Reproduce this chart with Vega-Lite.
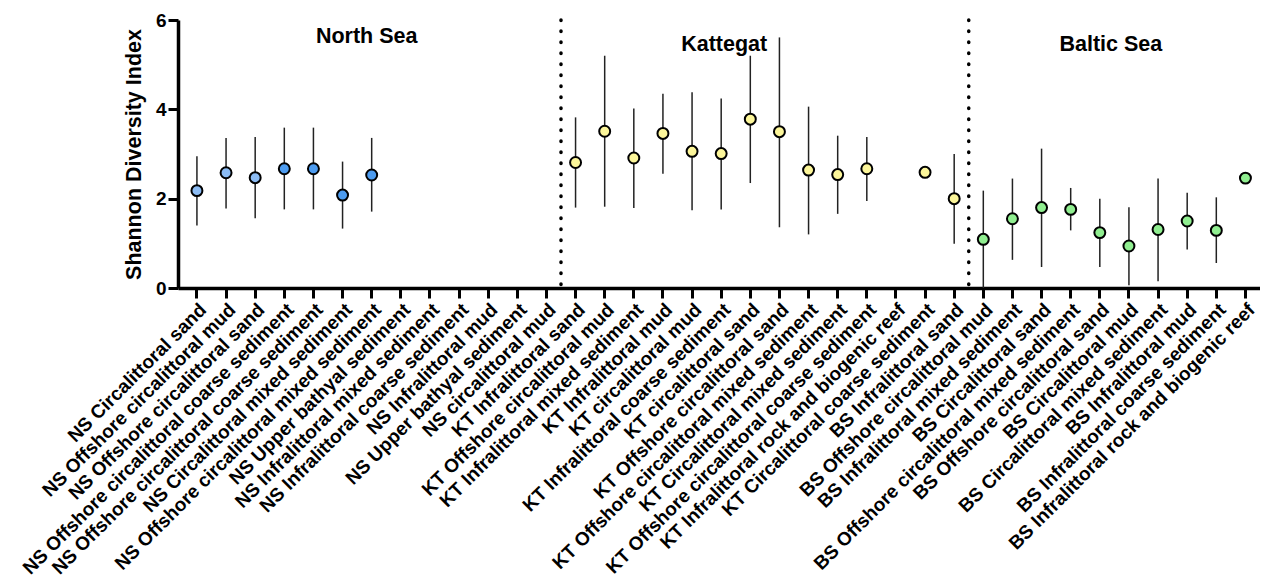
{
  "$schema": "https://vega.github.io/schema/vega-lite/v6.json",
  "autosize": {"type": "none"},
  "padding": {"left": 178, "top": 20, "right": 0, "bottom": 300},
  "width": 1082,
  "height": 268,
  "background": "white",
  "config": {
    "view": {"stroke": null},
    "font": "Liberation Sans",
    "axis": {
      "domainColor": "black",
      "domainWidth": 3.5,
      "tickColor": "black",
      "tickWidth": 3,
      "tickSize": 10,
      "labelColor": "black",
      "labelFont": "Liberation Sans",
      "labelFontWeight": "bold",
      "labelFontSize": 19,
      "titleFont": "Liberation Sans",
      "titleFontWeight": "bold",
      "titleFontSize": 21.5,
      "titleColor": "black",
      "grid": false
    }
  },
  "datasets": {
    "main": [
      {"cat": "NS Circalittoral sand", "group": "NSa", "mean": 2.18, "lo": 1.40, "hi": 2.95},
      {"cat": "NS Offshore circalittoral mud", "group": "NSa", "mean": 2.58, "lo": 1.78, "hi": 3.36},
      {"cat": "NS Offshore circalittoral sand", "group": "NSa", "mean": 2.47, "lo": 1.56, "hi": 3.38},
      {"cat": "NS Offshore circalittoral coarse sediment", "group": "NSb", "mean": 2.67, "lo": 1.76, "hi": 3.59},
      {"cat": "NS Offshore circalittoral coarse sediment|2", "group": "NSb", "mean": 2.67, "lo": 1.76, "hi": 3.59},
      {"cat": "NS Circalittoral mixed sediment", "group": "NSb", "mean": 2.08, "lo": 1.33, "hi": 2.83},
      {"cat": "NS Offshore circalittoral mixed sediment", "group": "NSb", "mean": 2.53, "lo": 1.71, "hi": 3.36},
      {"cat": "KT Infralittoral sand", "group": "KT", "mean": 2.81, "lo": 1.80, "hi": 3.82},
      {"cat": "KT Offshore circalittoral mud", "group": "KT", "mean": 3.51, "lo": 1.82, "hi": 5.20},
      {"cat": "KT Infralittoral mixed sediment", "group": "KT", "mean": 2.91, "lo": 1.79, "hi": 4.02},
      {"cat": "KT Infralittoral mud", "group": "KT", "mean": 3.46, "lo": 2.56, "hi": 4.35},
      {"cat": "KT circalittoral mud", "group": "KT", "mean": 3.06, "lo": 1.74, "hi": 4.38},
      {"cat": "KT Infralittoral coarse sediment", "group": "KT", "mean": 3.01, "lo": 1.76, "hi": 4.24},
      {"cat": "KT circalittoral sand", "group": "KT", "mean": 3.78, "lo": 2.35, "hi": 5.20},
      {"cat": "KT Offshore circalittoral sand", "group": "KT", "mean": 3.50, "lo": 1.36, "hi": 5.61},
      {"cat": "KT Offshore circalittoral mixed sediment", "group": "KT", "mean": 2.64, "lo": 1.20, "hi": 4.06},
      {"cat": "KT Circalittoral mixed sediment", "group": "KT", "mean": 2.54, "lo": 1.66, "hi": 3.41},
      {"cat": "KT Offshore circalittoral coarse sediment", "group": "KT", "mean": 2.67, "lo": 1.95, "hi": 3.38},
      {"cat": "KT Circalittoral coarse sediment", "group": "KT", "mean": 2.59, "lo": null, "hi": null},
      {"cat": "BS Infralittoral sand", "group": "KT", "mean": 2.00, "lo": 0.99, "hi": 3.00},
      {"cat": "BS Offshore circalittoral mud", "group": "BS", "mean": 1.09, "lo": 0.0, "hi": 2.18},
      {"cat": "BS Infralittoral mixed sediment", "group": "BS", "mean": 1.55, "lo": 0.63, "hi": 2.45},
      {"cat": "BS Circalittoral sand", "group": "BS", "mean": 1.80, "lo": 0.47, "hi": 3.12},
      {"cat": "BS Offshore circalittoral mixed sediment", "group": "BS", "mean": 1.76, "lo": 1.29, "hi": 2.24},
      {"cat": "BS Offshore circalittoral sand", "group": "BS", "mean": 1.24, "lo": 0.47, "hi": 2.00},
      {"cat": "BS Circalittoral mud", "group": "BS", "mean": 0.94, "lo": 0.06, "hi": 1.81},
      {"cat": "BS Circalittoral mixed sediment", "group": "BS", "mean": 1.31, "lo": 0.15, "hi": 2.45},
      {"cat": "BS Infralittoral mud", "group": "BS", "mean": 1.50, "lo": 0.86, "hi": 2.13},
      {"cat": "BS Infralittoral coarse sediment", "group": "BS", "mean": 1.29, "lo": 0.56, "hi": 2.03},
      {"cat": "BS Infralittoral rock and biogenic reef", "group": "BS", "mean": 2.46, "lo": null, "hi": null}
    ],
    "dividers": [
      {"cat": "NS circalittoral mud"},
      {"cat": "BS Infralittoral sand"}
    ]
  },
  "layer": [
    {
      "data": {"name": "dividers"},
      "mark": {"type": "rule", "color": "black", "strokeWidth": 3.5, "strokeDash": [0.5, 10.5], "strokeCap": "round"},
      "encoding": {
        "x": {"field": "cat", "type": "nominal", "bandPosition": 1,
          "scale": {"domain": [
            "NS Circalittoral sand", "NS Offshore circalittoral mud", "NS Offshore circalittoral sand",
            "NS Offshore circalittoral coarse sediment", "NS Offshore circalittoral coarse sediment|2",
            "NS Circalittoral mixed sediment", "NS Offshore circalittoral mixed sediment",
            "NS Upper bathyal sediment", "NS Infralittoral mixed sediment", "NS Infralittoral coarse sediment",
            "NS Infralittoral mud", "NS Upper bathyal sediment|2", "NS circalittoral mud",
            "KT Infralittoral sand", "KT Offshore circalittoral mud", "KT Infralittoral mixed sediment",
            "KT Infralittoral mud", "KT circalittoral mud", "KT Infralittoral coarse sediment",
            "KT circalittoral sand", "KT Offshore circalittoral sand", "KT Offshore circalittoral mixed sediment",
            "KT Circalittoral mixed sediment", "KT Offshore circalittoral coarse sediment",
            "KT Infralittoral rock and biogenic reef", "KT Circalittoral coarse sediment", "BS Infralittoral sand",
            "BS Offshore circalittoral mud", "BS Infralittoral mixed sediment", "BS Circalittoral sand",
            "BS Offshore circalittoral mixed sediment", "BS Offshore circalittoral sand", "BS Circalittoral mud",
            "BS Circalittoral mixed sediment", "BS Infralittoral mud", "BS Infralittoral coarse sediment",
            "BS Infralittoral rock and biogenic reef"],
            "paddingInner": 0, "paddingOuter": 0.075, "align": 1},
          "axis": {"title": null, "labelAngle": -45, "labelExpr": "split(datum.label, '|')[0]", "labelPadding": 2, "labelLimit": 600}
        },
        "y": {"datum": 6, "type": "quantitative", "scale": {"domain": [0, 6], "nice": false}, "title": "Shannon Diversity Index"},
        "y2": {"datum": 0}
      }
    },
    {
      "data": {"name": "main"},
      "mark": {"type": "rule", "color": "#222222", "strokeWidth": 1.5},
      "encoding": {
        "x": {"field": "cat", "type": "nominal"},
        "y": {"field": "lo", "type": "quantitative", "title": "Shannon Diversity Index",
          "axis": {"values": [0, 2, 4, 6], "titlePadding": 10, "labelPadding": 2}},
        "y2": {"field": "hi"}
      }
    },
    {
      "data": {"name": "main"},
      "mark": {"type": "point", "shape": "circle", "filled": true, "size": 120, "stroke": "black", "strokeWidth": 2, "opacity": 1},
      "encoding": {
        "x": {"field": "cat", "type": "nominal"},
        "y": {"field": "mean", "type": "quantitative", "title": "Shannon Diversity Index"},
        "fill": {"field": "group", "type": "nominal", "legend": null,
          "scale": {"domain": ["NSa", "NSb", "KT", "BS"], "range": ["#8cbcf4", "#4d9cf0", "#fcf69a", "#90ee90"]}}
      }
    },
    {
      "data": {"values": [{"t": "North Sea", "cat": "NS Offshore circalittoral mixed sediment"}]},
      "mark": {"type": "text", "fontWeight": "bold", "fontSize": 21.5, "color": "black", "align": "center", "baseline": "middle", "dx": -5},
      "encoding": {"x": {"field": "cat", "type": "nominal"}, "y": {"datum": 5.63}, "text": {"field": "t"}}
    },
    {
      "data": {"values": [{"t": "Kattegat", "cat": "KT Infralittoral coarse sediment"}]},
      "mark": {"type": "text", "fontWeight": "bold", "fontSize": 21.5, "color": "black", "align": "center", "baseline": "middle", "dx": 3},
      "encoding": {"x": {"field": "cat", "type": "nominal"}, "y": {"datum": 5.44}, "text": {"field": "t"}}
    },
    {
      "data": {"values": [{"t": "Baltic Sea", "cat": "BS Offshore circalittoral sand"}]},
      "mark": {"type": "text", "fontWeight": "bold", "fontSize": 21.5, "color": "black", "align": "center", "baseline": "middle", "dx": 11},
      "encoding": {"x": {"field": "cat", "type": "nominal"}, "y": {"datum": 5.44}, "text": {"field": "t"}}
    }
  ]
}
